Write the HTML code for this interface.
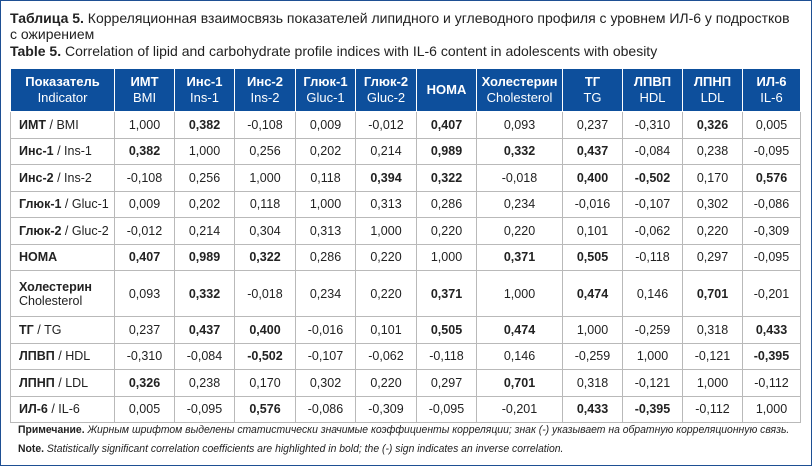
<!DOCTYPE html>
<html><head><meta charset="utf-8"><style>
body{margin:0;width:812px;height:466px;background:#fff;font-family:"Liberation Sans","Noto Sans CJK SC",sans-serif;color:#222;overflow:hidden}
.frame{position:absolute;left:0;top:0;width:810px;height:464px;border:1px solid #1e4f93}
.t{position:absolute;left:10px;font-size:14px;line-height:16px;white-space:nowrap}
table{position:absolute;left:10px;top:68px;border-collapse:collapse;table-layout:fixed;font-family:"Liberation Sans",sans-serif;font-size:12.5px}
td,th{border:1px solid #b9b9b9;text-align:center;padding:0;white-space:nowrap}
th{background:#0d4f9c;color:#fff;font-weight:normal;height:42px;line-height:16px;border-color:#fff;font-size:13px}
th b{font-weight:bold}
td{height:25.5px}
td:first-child{text-align:left;padding-left:8px}
tr.ch td{height:45px}
.n{position:absolute;left:18px;font-size:11px;font-style:italic;white-space:nowrap;transform:scaleX(0.945);transform-origin:0 0}
.n b{font-style:normal}
</style></head><body>
<div class="frame"></div>
<div class="t" style="top:10px"><b>Таблица 5.</b> Корреляционная взаимосвязь показателей липидного и углеводного профиля с уровнем ИЛ-6 у подростков</div>
<div class="t" style="top:26px">с ожирением</div>
<div class="t" style="top:43px"><b>Table 5.</b> Correlation of lipid and carbohydrate profile indices with IL-6 content in adolescents with obesity</div>
<table>
<colgroup><col style="width:104px"><col style="width:60px"><col style="width:60px"><col style="width:61px"><col style="width:60px"><col style="width:61px"><col style="width:60px"><col style="width:86px"><col style="width:60px"><col style="width:60px"><col style="width:60px"><col style="width:58px"></colgroup>
<tr><th><b>Показатель</b><br>Indicator</th><th><b>ИМТ</b><br>BMI</th><th><b>Инс-1</b><br>Ins-1</th><th><b>Инс-2</b><br>Ins-2</th><th><b>Глюк-1</b><br>Gluc-1</th><th><b>Глюк-2</b><br>Gluc-2</th><th><b>HOMA</b></th><th><b>Холестерин</b><br>Cholesterol</th><th><b>ТГ</b><br>TG</th><th><b>ЛПВП</b><br>HDL</th><th><b>ЛПНП</b><br>LDL</th><th><b>ИЛ-6</b><br>IL-6</th></tr>
<tr><td><b>ИМТ</b> / BMI</td><td>1,000</td><td><b>0,382</b></td><td>-0,108</td><td>0,009</td><td>-0,012</td><td><b>0,407</b></td><td>0,093</td><td>0,237</td><td>-0,310</td><td><b>0,326</b></td><td>0,005</td></tr>
<tr><td><b>Инс-1</b> / Ins-1</td><td><b>0,382</b></td><td>1,000</td><td>0,256</td><td>0,202</td><td>0,214</td><td><b>0,989</b></td><td><b>0,332</b></td><td><b>0,437</b></td><td>-0,084</td><td>0,238</td><td>-0,095</td></tr>
<tr><td><b>Инс-2</b> / Ins-2</td><td>-0,108</td><td>0,256</td><td>1,000</td><td>0,118</td><td><b>0,394</b></td><td><b>0,322</b></td><td>-0,018</td><td><b>0,400</b></td><td><b>-0,502</b></td><td>0,170</td><td><b>0,576</b></td></tr>
<tr><td><b>Глюк-1</b> / Gluc-1</td><td>0,009</td><td>0,202</td><td>0,118</td><td>1,000</td><td>0,313</td><td>0,286</td><td>0,234</td><td>-0,016</td><td>-0,107</td><td>0,302</td><td>-0,086</td></tr>
<tr><td><b>Глюк-2</b> / Gluc-2</td><td>-0,012</td><td>0,214</td><td>0,304</td><td>0,313</td><td>1,000</td><td>0,220</td><td>0,220</td><td>0,101</td><td>-0,062</td><td>0,220</td><td>-0,309</td></tr>
<tr><td><b>HOMA</b></td><td><b>0,407</b></td><td><b>0,989</b></td><td><b>0,322</b></td><td>0,286</td><td>0,220</td><td>1,000</td><td><b>0,371</b></td><td><b>0,505</b></td><td>-0,118</td><td>0,297</td><td>-0,095</td></tr>
<tr class="ch"><td><b>Холестерин</b><br>Cholesterol</td><td>0,093</td><td><b>0,332</b></td><td>-0,018</td><td>0,234</td><td>0,220</td><td><b>0,371</b></td><td>1,000</td><td><b>0,474</b></td><td>0,146</td><td><b>0,701</b></td><td>-0,201</td></tr>
<tr><td><b>ТГ</b> / TG</td><td>0,237</td><td><b>0,437</b></td><td><b>0,400</b></td><td>-0,016</td><td>0,101</td><td><b>0,505</b></td><td><b>0,474</b></td><td>1,000</td><td>-0,259</td><td>0,318</td><td><b>0,433</b></td></tr>
<tr><td><b>ЛПВП</b> / HDL</td><td>-0,310</td><td>-0,084</td><td><b>-0,502</b></td><td>-0,107</td><td>-0,062</td><td>-0,118</td><td>0,146</td><td>-0,259</td><td>1,000</td><td>-0,121</td><td><b>-0,395</b></td></tr>
<tr><td><b>ЛПНП</b> / LDL</td><td><b>0,326</b></td><td>0,238</td><td>0,170</td><td>0,302</td><td>0,220</td><td>0,297</td><td><b>0,701</b></td><td>0,318</td><td>-0,121</td><td>1,000</td><td>-0,112</td></tr>
<tr><td><b>ИЛ-6</b> / IL-6</td><td>0,005</td><td>-0,095</td><td><b>0,576</b></td><td>-0,086</td><td>-0,309</td><td>-0,095</td><td>-0,201</td><td><b>0,433</b></td><td><b>-0,395</b></td><td>-0,112</td><td>1,000</td></tr>
</table>
<div class="n" style="top:424px"><b>Примечание.</b> Жирным шрифтом выделены статистически значимые коэффициенты корреляции; знак (-) указывает на обратную корреляционную связь.</div>
<div class="n" style="top:443px"><b>Note.</b> Statistically significant correlation coefficients are highlighted in bold; the (-) sign indicates an inverse correlation.</div>
</body></html>
